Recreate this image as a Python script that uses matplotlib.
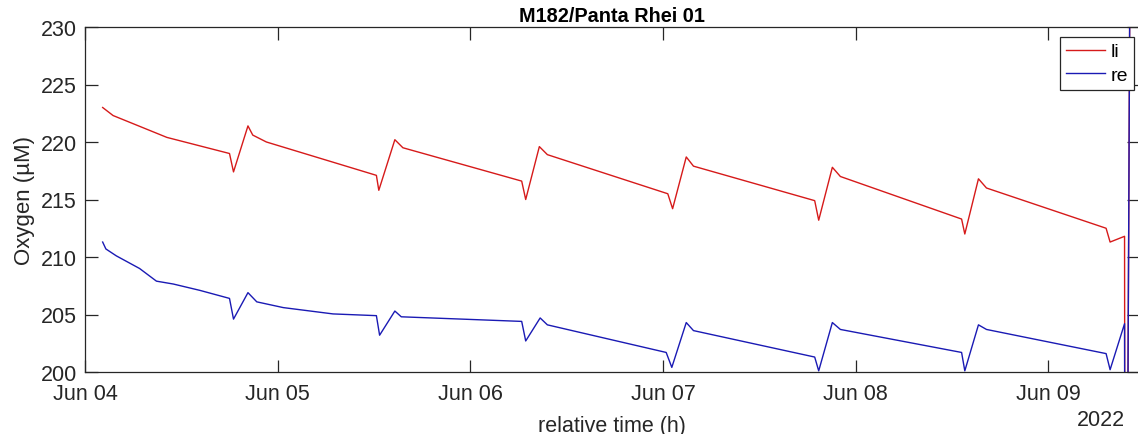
import numpy as np
import matplotlib
matplotlib.use("Agg")
import matplotlib.pyplot as plt
import matplotlib.dates as mdates

plt.rcParams['font.family'] = ['Liberation Sans', 'DejaVu Sans']

# hours after 2022-06-04 00:00, values in µM
li_hours = [2.2, 3.5, 10.2, 18.0, 18.5, 20.3, 20.9, 22.6, 36.3, 36.6, 38.6, 39.6,
            54.4, 54.9, 56.6, 57.6, 72.6, 73.2, 74.9, 75.8, 90.9, 91.4, 93.1, 94.1,
            109.2, 109.6, 111.3, 112.3, 127.2, 127.7, 129.5, 129.6, 130.6]
li_oxygen = [223.0, 222.3, 220.4, 219.0, 217.4, 221.4, 220.6, 220.0, 217.1, 215.8,
             220.2, 219.5, 216.6, 215.0, 219.6, 218.9, 215.5, 214.2, 218.7, 217.9,
             214.9, 213.2, 217.8, 217.0, 213.3, 212.0, 216.8, 216.0, 212.5, 211.3,
             211.8, 150.0, 300.0]

re_hours = [2.2, 2.6, 3.9, 6.8, 8.9, 11.0, 14.3, 18.0, 18.5, 20.3, 21.4, 24.7, 30.9,
            36.3, 36.7, 38.6, 39.4, 54.4, 54.9, 56.7, 57.6, 72.4, 73.1, 74.9, 75.8,
            90.9, 91.4, 93.1, 94.1, 109.2, 109.6, 111.3, 112.3, 127.2, 127.7, 129.5,
            129.6, 130.6]
re_oxygen = [211.3, 210.7, 210.1, 209.0, 207.9, 207.65, 207.1, 206.4, 204.6, 206.9,
             206.1, 205.6, 205.05, 204.9, 203.2, 205.3, 204.8, 204.4, 202.7, 204.7,
             204.1, 201.7, 200.4, 204.3, 203.6, 201.3, 200.1, 204.3, 203.7, 201.7,
             200.1, 204.1, 203.7, 201.6, 200.2, 204.2, 150.0, 300.0]

t0 = np.datetime64('2022-06-04T00:00')
t_end_hours = 131.3
y_ticks = [200, 205, 210, 215, 220, 225, 230]


def to_time(hours):
    return t0 + (np.array(hours) * 3600).astype('timedelta64[s]')


fig = plt.figure(figsize=(11.38, 4.35), dpi=100)
W, H = 1138, 435
ax = fig.add_axes([85 / W, (H - 373) / H, (1139 - 85) / W, (373 - 28) / H])

ax.plot(to_time(li_hours), li_oxygen, color='#d61a1a', lw=1.0, label='li')
ax.plot(to_time(re_hours), re_oxygen, color='#1a1ab4', lw=1.0, label='re')

ax.set_xlim(t0, to_time([t_end_hours])[0])
ax.set_ylim(200, 230)
ax.set_yticks(y_ticks)
ax.xaxis.set_major_locator(mdates.DayLocator())
ax.xaxis.set_major_formatter(mdates.DateFormatter('%b %d'))

for side in ax.spines.values():
    side.set_color('#262626')
    side.set_linewidth(0.9)
ax.tick_params(direction='in', length=9, width=0.9, top=True, right=True,
               labelsize=15.5, colors='#262626')
ax.tick_params(axis='x', pad=8)
ax.tick_params(axis='y', pad=6)

ax.set_title('M182/Panta Rhei 01', fontsize=14.3, fontweight='bold', pad=4)
ax.set_xlabel('relative time (h)', fontsize=15.5, color='#262626', labelpad=8)
ax.set_ylabel('Oxygen (µM)', fontsize=16, color='#262626', labelpad=4)

ax.text(1125 / W, (H - 421) / H, '2022', transform=fig.transFigure,
        ha='right', va='center', fontsize=15.5, color='#262626')

leg = ax.legend(loc='upper right', bbox_to_anchor=(1 - 5 / 1054, 1 - 10 / 345),
                borderaxespad=0, fontsize=14, frameon=True, fancybox=False,
                framealpha=1, edgecolor='#262626', handlelength=2.0,
                handletextpad=0.3, labelspacing=0.3, borderpad=0.3)
leg.get_frame().set_linewidth(0.9)

fig.savefig('out.png', dpi=100)
